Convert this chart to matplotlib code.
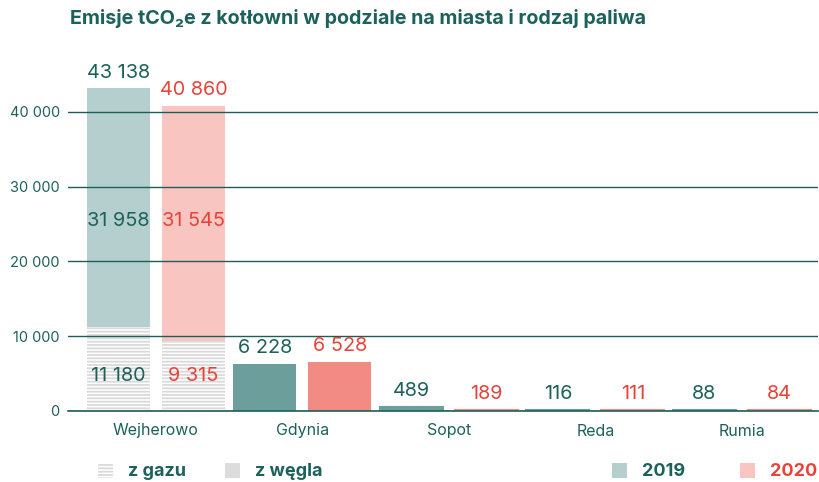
import matplotlib
matplotlib.use("Agg")
import matplotlib.pyplot as plt
from matplotlib.patches import Rectangle
import numpy as np

cities = ["Wejherowo", "Gdynia", "Sopot", "Reda", "Rumia"]
total_2019 = [43138, 6228, 489, 116, 88]
total_2020 = [40860, 6528, 189, 111, 84]
gas_2019 = [11180, 0, 0, 0, 0]
gas_2020 = [9315, 0, 0, 0, 0]
coal_2019 = [31958, 0, 0, 0, 0]
coal_2020 = [31545, 0, 0, 0, 0]
yticks = [0, 10000, 20000, 30000, 40000]
ytick_labels = ["0", "10 000", "20 000", "30 000", "40 000"]

TEAL = "#1b5f58"
TEAL_TXT = "#1c615b"
RED_TXT = "#e8433a"
LIGHT19 = "#b5cfcf"
LIGHT20 = "#f8c5c1"
DARK19 = "#6c9e9b"
DARK20 = "#f28b84"
STRIPE = "#dadada"

plt.rcParams['font.family'] = ['Inter', 'DejaVu Sans']
plt.rcParams['hatch.linewidth'] = 1.3

fig = plt.figure(figsize=(8.2, 4.82), dpi=100)
W, H = 820, 482
ax = fig.add_axes([68 / W, (H - 411) / H, (818 - 68) / W, (411 - 60) / H])

x = np.arange(len(cities))
off = 0.256
bw = 0.43
VFS = 14.3

def fmt(v):
    return f"{v:,}".replace(",", " ")

for i in range(len(cities)):
    gas_lab_y = (gas_2019[i] + gas_2020[i]) / 4 - 500
    coal_lab_y = ((gas_2019[i] + coal_2019[i] / 2) + (gas_2020[i] + coal_2020[i] / 2)) / 2 - 700
    for k, (tot, gas, coal, light, dark, tcol) in enumerate([
            (total_2019[i], gas_2019[i], coal_2019[i], LIGHT19, DARK19, TEAL_TXT),
            (total_2020[i], gas_2020[i], coal_2020[i], LIGHT20, DARK20, RED_TXT)]):
        xc = x[i] + (-off if k == 0 else off)
        if gas > 0:
            ax.bar(xc, gas, width=bw, color="white", edgecolor=STRIPE,
                   hatch="-----", linewidth=0, zorder=1)
            ax.bar(xc, coal, width=bw, bottom=gas, color=light, linewidth=0, zorder=1)
            ax.text(xc, gas_lab_y, fmt(gas), ha="center", va="center",
                    fontsize=VFS, color=tcol, zorder=5)
            ax.text(xc, coal_lab_y, fmt(coal), ha="center", va="center",
                    fontsize=VFS, color=tcol, zorder=5)
        else:
            ax.bar(xc, tot, width=bw, color=dark, edgecolor=dark,
                   linewidth=1.5 if tot < 1000 else 0, zorder=3)
        ax.annotate(fmt(tot), (xc, tot), xytext=(0, 5), textcoords="offset points",
                    ha="center", va="bottom", fontsize=VFS,
                    color=tcol, zorder=5)

ax.set_xlim(-0.6, 4.52)
ax.set_ylim(0, 46950)
ax.set_yticks(yticks)
ax.set_yticklabels(ytick_labels)
ax.set_xticks(x)
ax.set_xticklabels(cities)
ax.tick_params(axis="both", length=0, labelcolor=TEAL_TXT)
ax.tick_params(axis="y", pad=6, labelsize=10.5)
ax.tick_params(axis="x", pad=9, labelsize=11.5)
ax.yaxis.grid(True, color=TEAL, linewidth=1.0, zorder=2)
ax.set_axisbelow(False)
for s in ["top", "right", "left"]:
    ax.spines[s].set_visible(False)
ax.spines["bottom"].set_color(TEAL)
ax.spines["bottom"].set_linewidth(1.2)
ax.spines["bottom"].set_zorder(4)
for gl in ax.get_ygridlines():
    gl.set_zorder(2)

fig.text(70 / W, 1 - 19 / H, "Emisje tCO₂e z kotłowni w podziale na miasta i rodzaj paliwa",
         ha="left", va="center", fontsize=14.2, fontweight="bold", color=TEAL_TXT)

# legend
ly = 1 - 471 / H
sq = 15
fig.add_artist(Rectangle((98 / W, (H - 478) / H), sq / W, sq / H, transform=fig.transFigure,
                         facecolor="white", edgecolor=STRIPE, hatch="-----", linewidth=0))
fig.text(128 / W, ly, "z gazu", ha="left", va="center", fontsize=13, fontweight="bold", color=TEAL_TXT)
fig.add_artist(Rectangle((225 / W, (H - 478) / H), sq / W, sq / H, transform=fig.transFigure,
                         facecolor="#dcdcdd", linewidth=0))
fig.text(255 / W, ly, "z węgla", ha="left", va="center", fontsize=13, fontweight="bold", color=TEAL_TXT)
fig.add_artist(Rectangle((612 / W, (H - 478) / H), sq / W, sq / H, transform=fig.transFigure,
                         facecolor=LIGHT19, linewidth=0))
fig.text(642 / W, ly, "2019", ha="left", va="center", fontsize=13, fontweight="bold", color=TEAL_TXT)
fig.add_artist(Rectangle((740 / W, (H - 478) / H), sq / W, sq / H, transform=fig.transFigure,
                         facecolor=LIGHT20, linewidth=0))
fig.text(770 / W, ly, "2020", ha="left", va="center", fontsize=13, fontweight="bold", color=RED_TXT)

fig.savefig("out.png", dpi=100)
